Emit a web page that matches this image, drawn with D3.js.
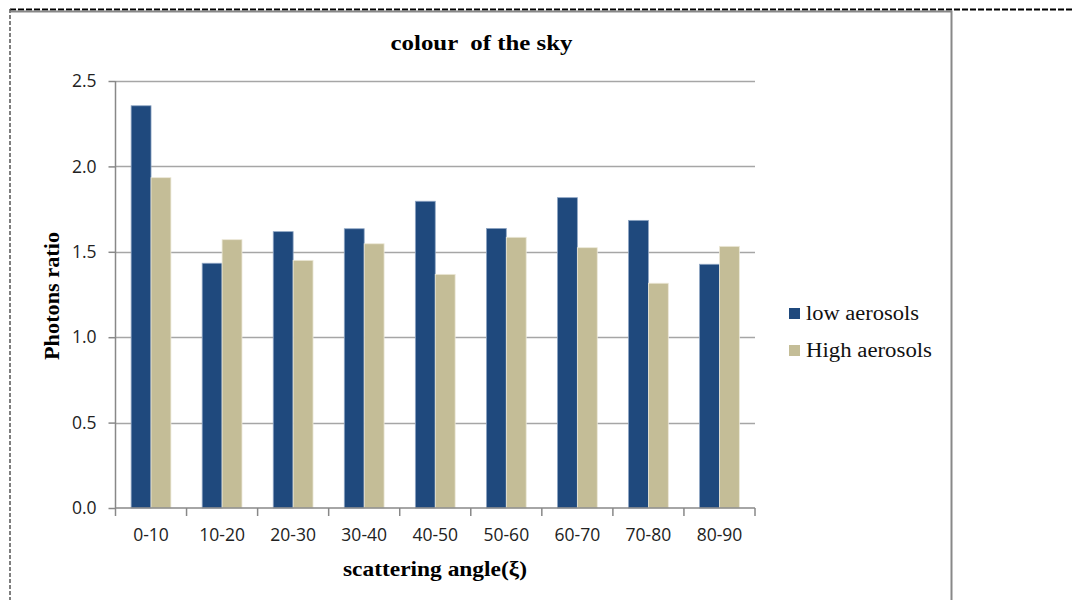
<!DOCTYPE html>
<html><head><meta charset="utf-8">
<script src="https://cdn.jsdelivr.net/npm/d3@7"></script>
<style>body{margin:0;background:#fff}</style>
</head><body>
<script>
const categories = ["0-10","10-20","20-30","30-40","40-50","50-60","60-70","70-80","80-90"];
const seriesNames = ["low aerosols","High aerosols"];
const lowAerosols = [2.355,1.433,1.618,1.635,1.796,1.637,1.817,1.684,1.427];
const highAerosols = [1.934,1.571,1.450,1.547,1.368,1.585,1.524,1.316,1.532];
const yTicks = [0,0.5,1.0,1.5,2.0,2.5];
const colors = ["#1f497d","#c4bd97"];

const W = 1073, H = 600;
const svg = d3.select("body").append("svg").attr("width",W).attr("height",H);

// frames
svg.append("line").attr("x1",10).attr("x2",W).attr("y1",9.5).attr("y2",9.5)
  .attr("stroke","#000").attr("stroke-width",2).attr("stroke-dasharray","6,2");
svg.append("line").attr("x1",10).attr("x2",10).attr("y1",9).attr("y2",H)
  .attr("stroke","#555").attr("stroke-width",1.5).attr("stroke-dasharray","4,2");
svg.append("path").attr("d",`M11,11.5H951.5V${H}`).attr("fill","none")
  .attr("stroke","#888").attr("stroke-width",2);

const pL = 115.5, pR = 755, pT = 81, pB = 508;
const x = d3.scaleBand().domain(categories).range([pL,pR]).paddingInner(0.44).paddingOuter(0.22);
const y = d3.scaleLinear().domain([0,2.5]).range([pB,pT]);
const x1 = d3.scaleBand().domain(seriesNames).range([0,x.bandwidth()]);

// gridlines
svg.append("g").selectAll("line").data(yTicks.filter(d=>d>0)).join("line")
  .attr("x1",pL).attr("x2",pR).attr("y1",d=>Math.round(y(d))+0.5).attr("y2",d=>Math.round(y(d))+0.5)
  .attr("stroke","#a6a6a6").attr("stroke-width",1.5);

// bars
const data = categories.map((c,i)=>({c, vals:[lowAerosols[i],highAerosols[i]]}));
const g = svg.append("g");
data.forEach(d=>{
  d.vals.forEach((v,j)=>{
    g.append("rect").attr("x",x(d.c)+x1(seriesNames[j])).attr("width",x1.bandwidth())
      .attr("y",y(v)).attr("height",y(0)-y(v)).attr("fill",colors[j])
      .attr("stroke", j===0?"#8fa6c4":"#ece8d8").attr("stroke-width",0.8);
  });
});

// y axis
const yAxis = d3.axisLeft(y).tickValues(yTicks).tickFormat(d3.format(".1f")).tickSize(7).tickPadding(12);
const ya = svg.append("g").attr("transform",`translate(${pL},0)`).call(yAxis);
ya.select(".domain").attr("stroke","#888").attr("stroke-width",1.5).attr("d",`M0,${pT}V${pB}`);
ya.selectAll(".tick line").attr("stroke","#888").attr("stroke-width",1.5);
ya.selectAll(".tick text").attr("font-family","'Open Sans',sans-serif").attr("font-size",17.5).attr("fill","#222");

// x axis
const xa = svg.append("g").attr("transform",`translate(0,${pB})`)
  .call(d3.axisBottom(x).tickSize(0).tickPadding(21));
xa.select(".domain").attr("stroke","#888").attr("stroke-width",1.5).attr("d",`M${pL},0H${pR}`);
xa.selectAll(".tick text").attr("font-family","'Open Sans',sans-serif").attr("font-size",17.5).attr("fill","#222");
const bounds = [pL].concat(categories.map(c=>x(c)+x.bandwidth()+x.step()*x.paddingInner()/2));
bounds[bounds.length-1]=pR;
xa.append("g").selectAll("line").data(bounds).join("line")
  .attr("x1",d=>d).attr("x2",d=>d).attr("y1",0).attr("y2",8).attr("stroke","#888").attr("stroke-width",1.5);

// title & labels
svg.append("text").attr("x",481.5).attr("y",50).attr("text-anchor","middle")
  .attr("font-family","'Liberation Serif',serif").attr("font-weight","bold").attr("font-size",21)
  .attr("textLength",182).attr("lengthAdjust","spacingAndGlyphs")
  .style("white-space","pre").text("colour  of the sky");
svg.append("text").attr("x",435).attr("y",576).attr("text-anchor","middle")
  .attr("font-family","'Liberation Serif',serif").attr("font-weight","bold").attr("font-size",21)
  .attr("textLength",184).attr("lengthAdjust","spacingAndGlyphs")
  .text("scattering angle(ξ)");
svg.append("text").attr("transform","translate(59,296) rotate(-90)").attr("text-anchor","middle")
  .attr("font-family","'Liberation Serif',serif").attr("font-weight","bold").attr("font-size",20)
  .attr("textLength",128).attr("lengthAdjust","spacingAndGlyphs")
  .text("Photons ratio");

// legend
const legendWidths = [113, 126];
const lg = svg.append("g");
seriesNames.forEach((s,i)=>{
  const yy = 308 + i*37;
  lg.append("rect").attr("x",789).attr("y",yy).attr("width",11).attr("height",11).attr("fill",colors[i]);
  lg.append("text").attr("x",806).attr("y",yy+12).attr("font-family","'Liberation Serif',serif")
    .attr("font-size",20).attr("fill","#111")
    .attr("textLength",legendWidths[i]).attr("lengthAdjust","spacingAndGlyphs").text(s);
});
</script>
</body></html>
